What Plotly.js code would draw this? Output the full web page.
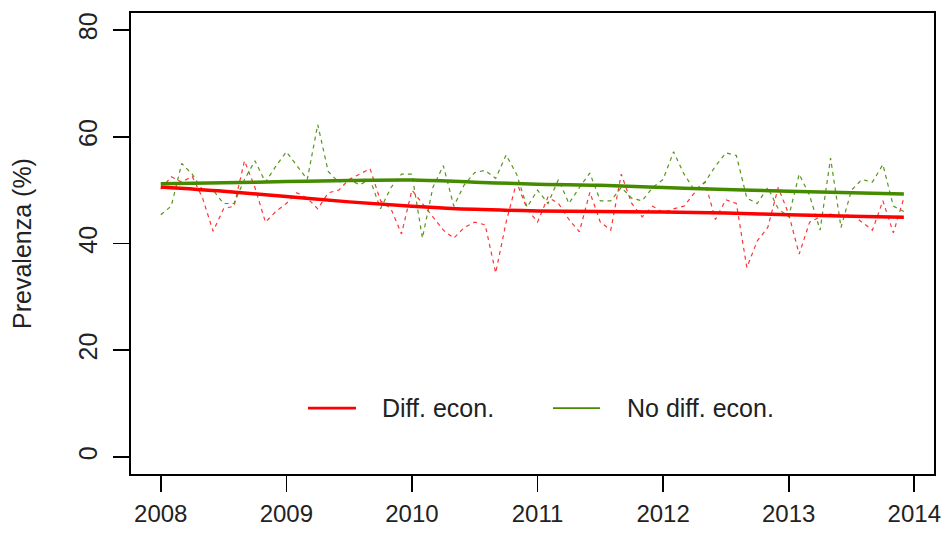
<!DOCTYPE html>
<html>
<head>
<meta charset="utf-8">
<script src="https://cdn.plot.ly/plotly-3.0.1.min.js"></script>
<style>html,body{margin:0;padding:0;background:#fff;}#chart{width:946px;height:533px;}</style>
</head>
<body>
<div id="chart"></div>
<script>
// Monthly prevalence (%), Jan 2008 - Dec 2013
const startYear = 2008;
const diffEcon = [50.2,52.5,51.5,52.6,48.5,42.3,46.5,47,55.5,50.5,44,46,
  47.5,49.5,48.5,46.5,49.5,50,52,53,54,48,46.5,41.8,
  50,47.5,45,42.5,41,43,44,43.5,34.5,44,51.5,46.5,
  44,48.7,47.5,44.5,42.2,49.6,44,42.5,53,47.5,45,47,
  45.8,46.5,47,49.5,51.5,44.5,48.2,47.5,35.5,40.5,43,50.5,
  45.5,38,44,45,45.5,45,45.5,44,42.5,48,42,48.5];
const noDiffEcon = [45.4,47,55,53,50,50,47.5,47.5,52,55.5,51.5,54.5,
  57.2,54.5,52,62.3,53.5,51.5,52,51,52,46.5,50.5,53,
  53,41,50.5,54.6,47,51,53.3,53.7,52.2,56.6,53,46.8,
  50,47.5,52,47.5,50.5,53.2,48,48,50.5,48.5,48,50.5,
  52,57.2,53,50,51.5,54.5,57,56.5,48.5,47.5,50.5,46.5,
  45,53,49,42.5,56,43,50,52,51.5,54.8,47,46];
// Smoothed trends (knots)
const trendX = [2008,2008.5,2009,2009.5,2010,2010.5,2011,2011.5,2012,2012.5,2013,2013.5,2013.917];
const trendDiff = [50.6,49.8,48.8,47.8,47.0,46.4,46.1,46.0,45.9,45.7,45.4,45.1,44.9];
const trendNoDiff = [51.2,51.4,51.6,51.8,51.9,51.5,51.1,50.9,50.5,50.1,49.8,49.5,49.3];
const xTicks = [2008,2009,2010,2011,2012,2013,2014];
const yTicks = [0,20,40,60,80];
const legendLabels = ['Diff. econ.','No diff. econ.'];

const RED = '#ff0000';
const GREEN = '#458b00';
const months = diffEcon.map((_, i) => startYear + i / 12);

const traces = [
  {x: months, y: diffEcon, mode: 'lines', line: {color: RED, width: 1.2, dash: '4px,4px'}, opacity: 0.8, hoverinfo: 'skip'},
  {x: months, y: noDiffEcon, mode: 'lines', line: {color: GREEN, width: 1.2, dash: '4px,4px'}, opacity: 0.9, hoverinfo: 'skip'},
  {x: trendX, y: trendDiff, mode: 'lines', line: {color: RED, width: 3.5, shape: 'spline'}, hoverinfo: 'skip'},
  {x: trendX, y: trendNoDiff, mode: 'lines', line: {color: GREEN, width: 3.5, shape: 'spline'}, hoverinfo: 'skip'}
];

const font = {family: 'Liberation Sans, Arial, sans-serif', size: 25, color: '#222'};
const axisBase = {showgrid: false, zeroline: false, showline: true, mirror: true, linecolor: '#000', linewidth: 1.6,
  ticks: 'outside', ticklen: 16, tickwidth: 1.6, tickcolor: '#000', tickfont: font};

const layout = {
  width: 946, height: 533,
  margin: {l: 131, r: 12, t: 13, b: 59},
  paper_bgcolor: '#fff', plot_bgcolor: '#fff',
  showlegend: false,
  xaxis: Object.assign({}, axisBase, {range: [2007.763, 2014.157], tickvals: xTicks, ticktext: xTicks.map(String), ticklabelstandoff: 2,
    tickfont: Object.assign({}, font, {size: 24})}),
  yaxis: Object.assign({}, axisBase, {range: [-3.2, 83.2], tickvals: yTicks, ticktext: yTicks.map(String), tickangle: -90,
    ticklabelstandoff: 6,
    title: {text: 'Prevalenza (%)', font: font, standoff: 35}}),
  shapes: [
    {type: 'line', xref: 'paper', yref: 'paper', x0: 0.2204, x1: 0.2802, y0: 0.143, y1: 0.143, line: {color: RED, width: 2.8}},
    {type: 'line', xref: 'paper', yref: 'paper', x0: 0.5255, x1: 0.5841, y0: 0.143, y1: 0.143, line: {color: GREEN, width: 1.8}}
  ],
  annotations: [
    {xref: 'paper', yref: 'paper', x: 0.3101, y: 0.143, xanchor: 'left', yanchor: 'middle', showarrow: false, text: legendLabels[0], font: font},
    {xref: 'paper', yref: 'paper', x: 0.6152, y: 0.143, xanchor: 'left', yanchor: 'middle', showarrow: false, text: legendLabels[1], font: font}
  ]
};

Plotly.newPlot('chart', traces, layout, {staticPlot: true, displayModeBar: false});
</script>
</body>
</html>
